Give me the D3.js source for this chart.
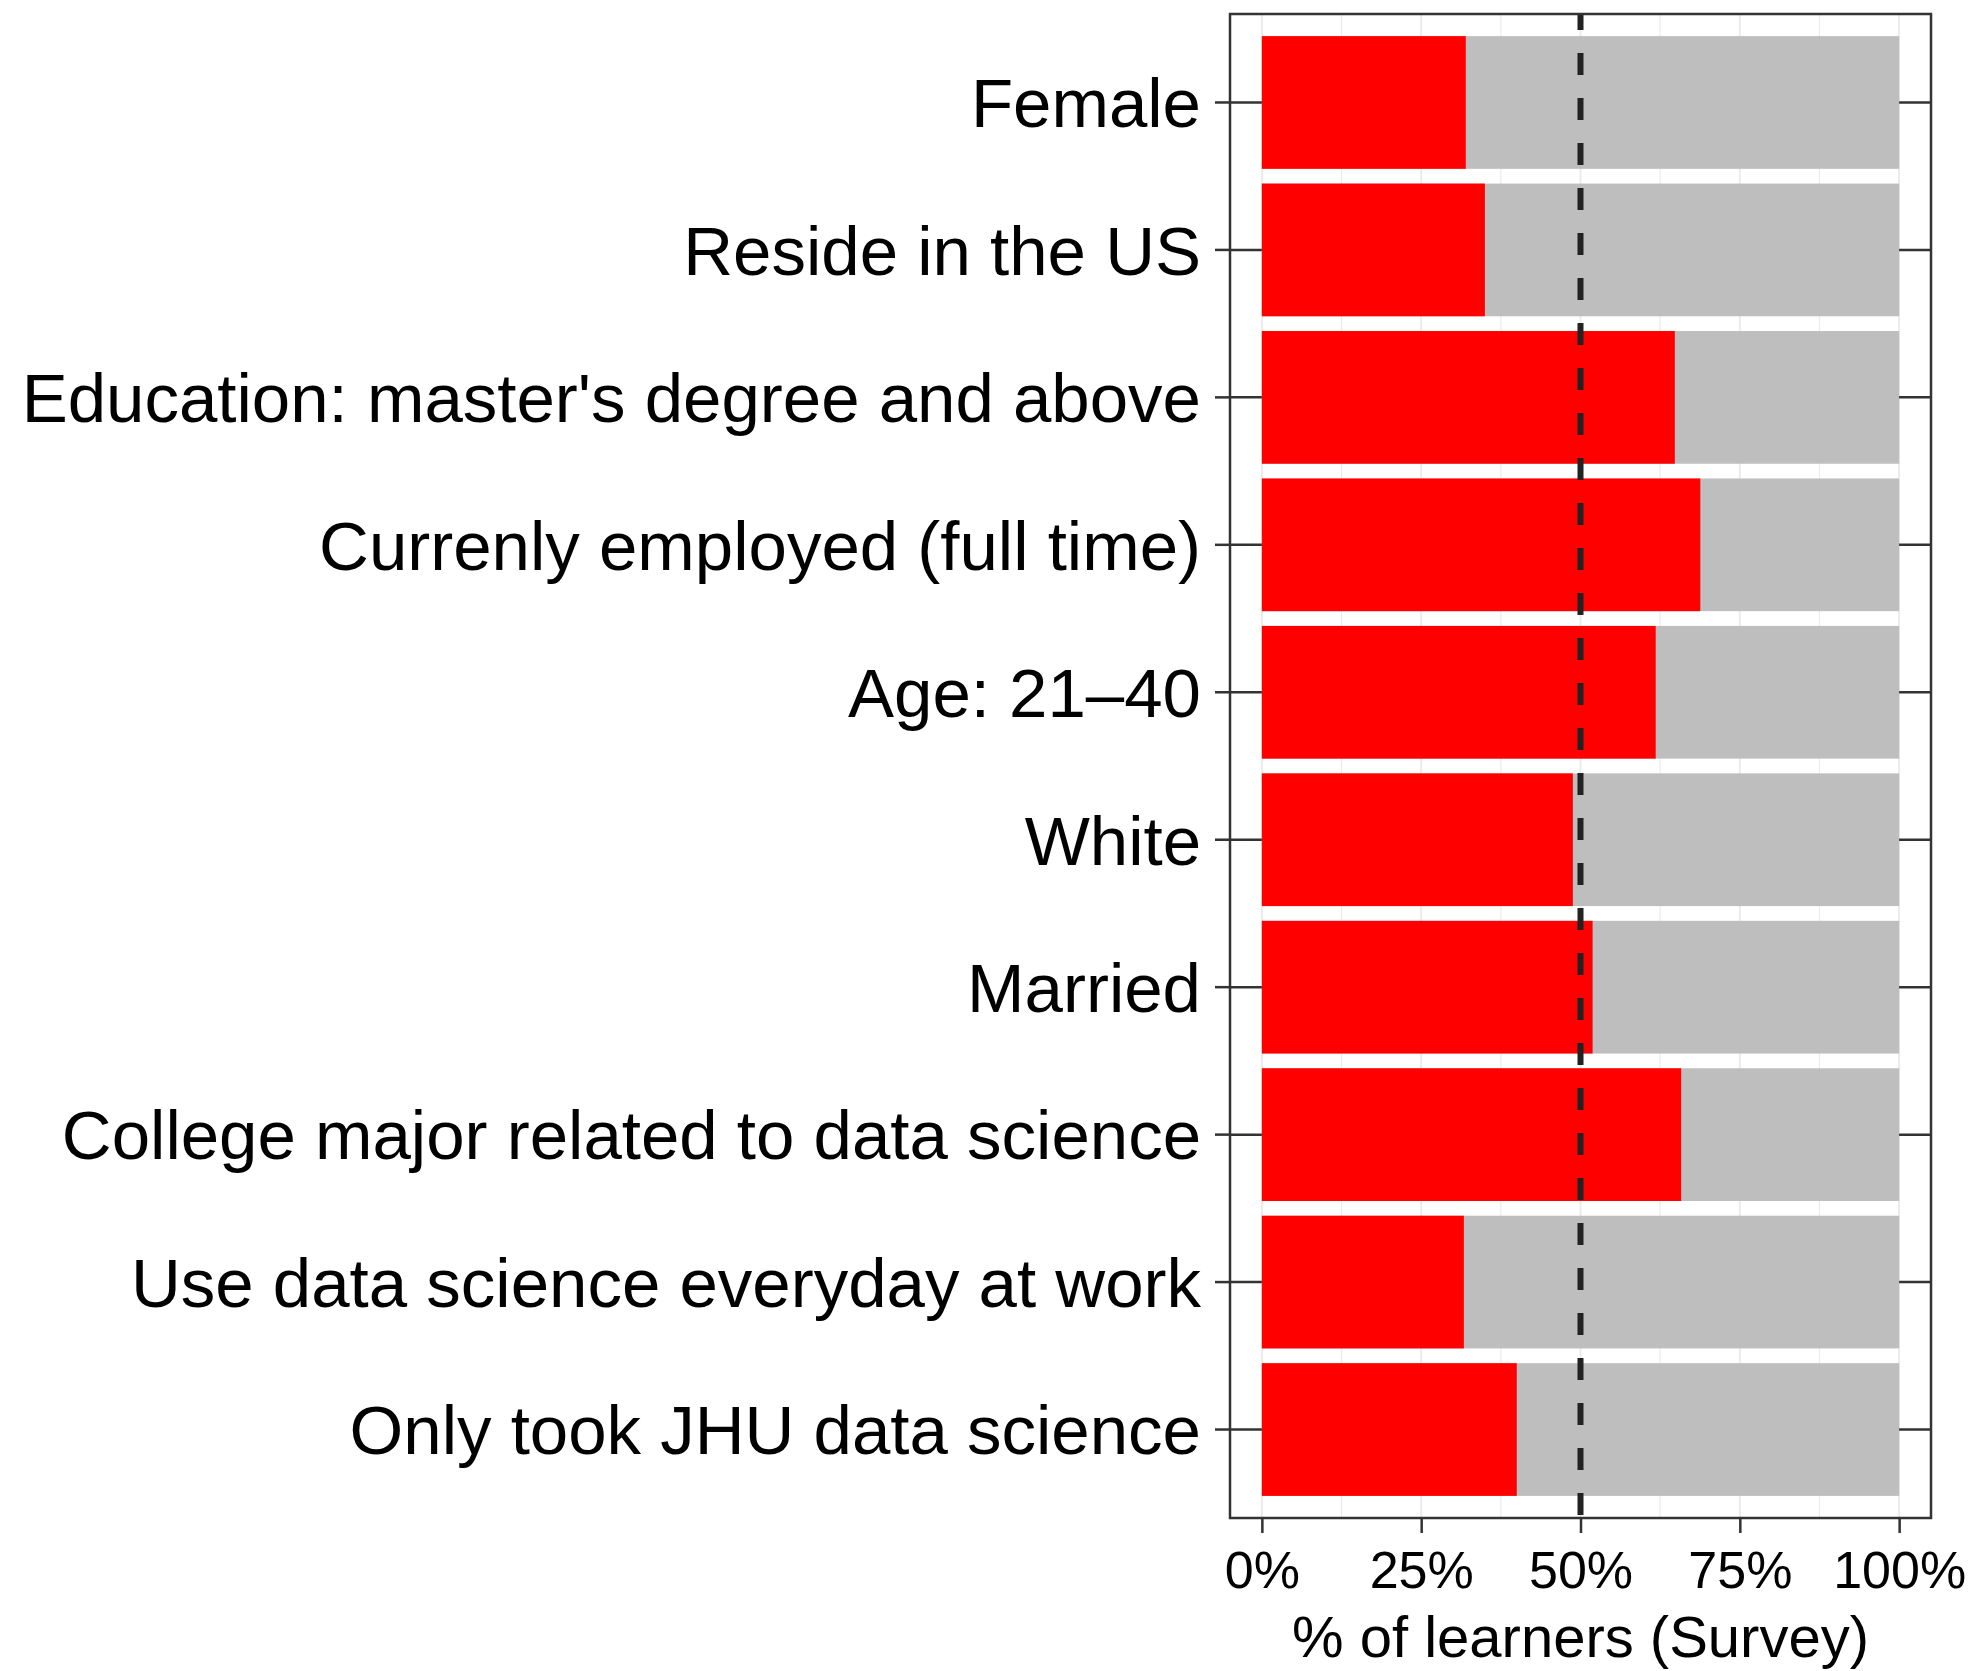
<!DOCTYPE html>
<html>
<head>
<meta charset="utf-8">
<script src="https://cdn.jsdelivr.net/npm/d3@7"></script>
<style>
  body { margin: 0; background: #fff; }
  text { font-family: "Liberation Sans", Arial, sans-serif; fill: #000; }
</style>
</head>
<body>
<div class="chart"></div>
<script>
// categories top to bottom, and the share (0..1) of learners in red
const categories = [
  "Female",
  "Reside in the US",
  "Education: master's degree and above",
  "Currenly employed (full time)",
  "Age: 21\u201340",
  "White",
  "Married",
  "College major related to data science",
  "Use data science everyday at work",
  "Only took JHU data science"
];
const shares = [0.32, 0.35, 0.648, 0.688, 0.618, 0.488, 0.519, 0.658, 0.317, 0.40];
const xTicks = [0, 0.25, 0.5, 0.75, 1];
const xTitle = "% of learners (Survey)";
const refLine = 0.5;

const outerWidth = 1976;
const outerHeight = 1671;
const panel = {left: 1230, right: 1931, top: 14, bottom: 1518};

const data = categories.map((c, i) => ({cat: c, val: shares[i]}));

const svg = d3.select(".chart")
    .append("svg")
    .attr("width", outerWidth)
    .attr("height", outerHeight);

// 5% expansion on both sides like ggplot
const xScale = d3.scaleLinear()
    .domain([-0.05, 1.05])
    .range([panel.left, panel.right]);

const yScale = d3.scaleBand()
    .domain(categories)
    .range([panel.top, panel.bottom])
    .paddingInner(0.1)
    .paddingOuter(0.15);

// vertical grid (major + minor), faint
const gridX = d3.range(0, 1.0001, 0.125);
svg.append("g")
    .selectAll("line")
    .data(gridX)
    .join("line")
    .attr("x1", d => xScale(d))
    .attr("x2", d => xScale(d))
    .attr("y1", panel.top)
    .attr("y2", panel.bottom)
    .attr("stroke", "#ebebeb")
    .attr("stroke-width", (d, i) => i % 2 === 0 ? 2 : 1.2);

// horizontal grid at category centres (shows in the side margins)
svg.append("g")
    .selectAll("line")
    .data(categories)
    .join("line")
    .attr("x1", panel.left)
    .attr("x2", panel.right)
    .attr("y1", d => yScale(d) + yScale.bandwidth() / 2)
    .attr("y2", d => yScale(d) + yScale.bandwidth() / 2)
    .attr("stroke", "#333")
    .attr("stroke-width", 2.5);

// gray full bar, red share on top
svg.append("g")
    .selectAll("rect")
    .data(data)
    .join("rect")
    .attr("x", xScale(0))
    .attr("y", d => yScale(d.cat))
    .attr("width", xScale(1) - xScale(0))
    .attr("height", yScale.bandwidth())
    .attr("fill", "#bebebe");

svg.append("g")
    .selectAll("rect")
    .data(data)
    .join("rect")
    .attr("x", xScale(0))
    .attr("y", d => yScale(d.cat))
    .attr("width", d => xScale(d.val) - xScale(0))
    .attr("height", yScale.bandwidth())
    .attr("fill", "#ff0000");

// dashed reference line
svg.append("line")
    .attr("x1", xScale(refLine))
    .attr("x2", xScale(refLine))
    .attr("y1", panel.top)
    .attr("y2", panel.bottom)
    .attr("stroke", "#222")
    .attr("stroke-width", 6)
    .attr("stroke-dasharray", "22,23")
    .attr("stroke-dashoffset", 6);

// panel border
svg.append("rect")
    .attr("x", panel.left)
    .attr("y", panel.top)
    .attr("width", panel.right - panel.left)
    .attr("height", panel.bottom - panel.top)
    .attr("fill", "none")
    .attr("stroke", "#333")
    .attr("stroke-width", 2.5);

// axes
const yAxis = d3.axisLeft(yScale).tickSize(15).tickPadding(14);
const gy = svg.append("g")
    .attr("transform", `translate(${panel.left},0)`)
    .call(yAxis);
gy.select(".domain").remove();
gy.selectAll(".tick line").attr("stroke", "#333").attr("stroke-width", 2.5);
gy.selectAll(".tick text")
    .attr("font-size", 69)
    .attr("dy", "0.36em");

const xAxis = d3.axisBottom(xScale)
    .tickValues(xTicks)
    .tickFormat(d3.format(".0%"))
    .tickSize(15)
    .tickPadding(18);
const gx = svg.append("g")
    .attr("transform", `translate(0,${panel.bottom})`)
    .call(xAxis);
gx.select(".domain").remove();
gx.selectAll(".tick line").attr("stroke", "#333").attr("stroke-width", 2.5);
gx.selectAll(".tick text").attr("font-size", 52);

svg.append("text")
    .attr("x", (panel.left + panel.right) / 2)
    .attr("y", 1657)
    .attr("text-anchor", "middle")
    .attr("font-size", 58)
    .text(xTitle);
</script>
</body>
</html>
